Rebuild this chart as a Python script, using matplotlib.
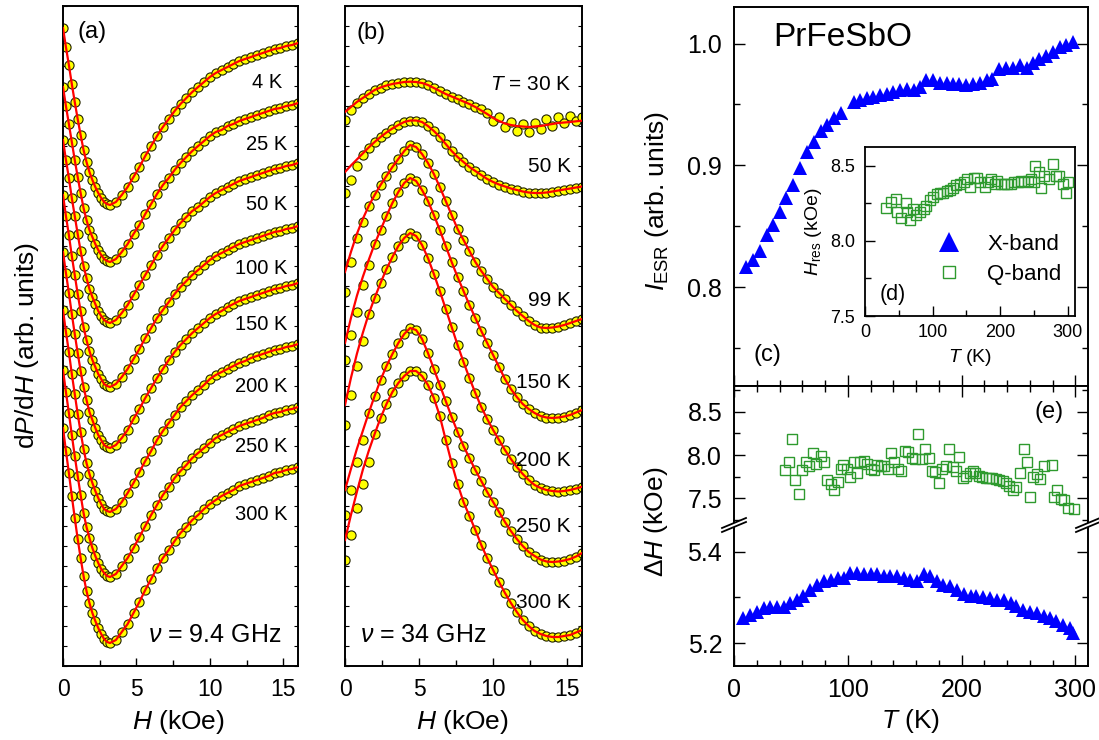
import numpy as np
import matplotlib
matplotlib.use('Agg')
import matplotlib.pyplot as plt
from matplotlib.ticker import MultipleLocator, FixedLocator, FormatStrFormatter
from matplotlib.lines import Line2D
from matplotlib.patches import Polygon

plt.rcParams['font.family'] = ['Liberation Sans', 'DejaVu Sans']
plt.rcParams['mathtext.fontset'] = 'custom'
plt.rcParams['mathtext.rm'] = 'Liberation Sans'
plt.rcParams['mathtext.it'] = 'Liberation Sans:italic'
plt.rcParams['mathtext.bf'] = 'Liberation Sans:bold'

# ---------------- data: panel (a), X-band spectra (arb. units, offset) -------
H_a = [0, 0.2, 0.4, 0.6, 0.8, 1.0, 1.2, 1.4, 1.6, 1.8, 2.0, 2.2, 2.4, 2.6, 2.8, 3.0, 3.2,
       3.6, 4.0, 4.4, 4.8, 5.2, 5.6, 6.0, 6.4, 6.8, 7.2, 7.6, 8.0, 8.4, 8.8, 9.2, 9.6, 10.0,
       10.4, 10.8, 11.2, 11.6, 12.0, 12.4, 12.8, 13.2, 13.6, 14.0, 14.4, 14.8, 15.2, 15.6, 16.0]
a_4K = [638, 619, 601, 582, 564, 547, 531, 516, 504, 494, 486, 479, 473, 468, 464, 462, 461,
        464, 471, 479, 489, 499, 510, 520, 530, 539, 547, 555, 562, 568, 574, 579, 584, 589,
        593, 596, 599, 602, 605, 607, 609, 611, 613, 615, 617, 618, 620, 621, 623]
a_25K = [579, 560, 542, 524, 506, 489, 473, 458, 446, 436, 429, 422, 416, 411, 407, 405, 404,
         407, 414, 422, 432, 441, 452, 462, 472, 481, 488, 496, 503, 509, 515, 520, 525, 530,
         534, 536, 540, 542, 545, 547, 549, 551, 553, 555, 557, 558, 560, 561, 563]
a_50K = [526, 506, 488, 468, 450, 432, 415, 400, 388, 377, 369, 362, 355, 350, 346, 344, 343,
         346, 353, 361, 371, 381, 391, 401, 411, 420, 428, 436, 443, 449, 455, 459, 464, 469,
         473, 476, 479, 482, 485, 487, 489, 491, 493, 495, 497, 498, 500, 501, 503]
a_100K = [471, 450, 431, 410, 391, 372, 355, 339, 326, 315, 306, 299, 292, 287, 282, 280, 279,
          282, 289, 297, 307, 317, 328, 338, 348, 356, 364, 372, 379, 385, 391, 396, 401, 406,
          410, 413, 416, 419, 422, 424, 426, 428, 430, 432, 434, 435, 437, 438, 440]
a_150K = [414, 393, 373, 352, 332, 313, 295, 279, 266, 254, 246, 238, 231, 226, 221, 219, 218,
          221, 228, 236, 247, 257, 268, 278, 288, 297, 306, 314, 321, 327, 333, 338, 343, 348,
          352, 355, 359, 362, 365, 367, 369, 371, 373, 375, 377, 378, 380, 381, 383]
a_200K = [356, 334, 314, 292, 272, 252, 234, 217, 203, 192, 183, 175, 168, 162, 157, 155, 154,
          157, 164, 173, 183, 194, 205, 215, 226, 235, 243, 251, 259, 265, 271, 276, 281, 287,
          291, 294, 297, 300, 303, 305, 308, 310, 312, 314, 316, 317, 319, 320, 322]
a_250K = [296, 274, 253, 231, 210, 190, 171, 153, 139, 128, 118, 110, 103, 97, 93, 90, 89,
          92, 100, 108, 118, 129, 140, 151, 161, 171, 179, 188, 195, 201, 208, 213, 218, 223,
          228, 231, 234, 237, 240, 242, 244, 246, 248, 251, 253, 254, 256, 257, 259]
a_300K = [238, 215, 193, 170, 148, 127, 108, 90, 75, 63, 53, 45, 38, 32, 27, 24, 23,
          26, 34, 42, 53, 64, 76, 87, 98, 108, 116, 125, 133, 139, 146, 151, 157, 162,
          166, 170, 173, 176, 180, 182, 184, 186, 188, 190, 193, 194, 196, 197, 199]
a_labels = ['4 K', '25 K', '50 K', '100 K', '150 K', '200 K', '250 K', '300 K']
a_label_y = [584, 521, 461, 398, 341, 279, 219, 151]

# ---------------- data: panel (b), Q-band spectra ----------------------------
H_b = [0, 0.4, 0.8, 1.2, 1.6, 2.0, 2.4, 2.8, 3.2, 3.6, 4.0, 4.4, 4.8, 5.2, 5.6, 6.0, 6.4,
       6.8, 7.2, 7.6, 8.0, 8.4, 8.8, 9.2, 9.6, 10.0, 10.4, 10.8, 11.2, 11.6, 12.0, 12.4,
       12.8, 13.2, 13.6, 14.0, 14.4, 14.8, 15.2, 15.6, 16.0]
b_fit_30K = [554, 559, 564, 568, 572, 576, 578.5, 580.5, 582, 583, 584, 584.3, 584, 583, 581,
             578, 575, 572, 569.5, 567, 564.5, 562, 559, 555.5, 552, 548, 545, 542.5, 541,
             540, 539.5, 539, 539.5, 540, 541, 542, 543, 543.5, 544, 544.7, 545.3]
b_dat_30K = [546, 556, 563, 568, 572, 576, 578, 581, 582, 583, 584, 584, 584, 583, 581,
             578, 575, 572, 569, 567, 564, 562, 559, 557, 553, 545, 549, 539, 544, 535,
             542, 534, 543, 537, 547, 540, 549, 543, 550, 545, 549]
b_fit_50K = [494, 500.5, 506.5, 512.5, 518.5, 524, 529, 533.5, 537.5, 541, 544, 545.5, 545.5,
             544, 540, 535, 529, 522, 515, 509, 504, 499, 495, 491, 487, 484, 481.5, 479.5,
             477.5, 476, 474.5, 473.5, 473, 473, 473.5, 474.5, 475.5, 476.5, 477.5, 478.5, 479.5]
b_dat_50K = [473, 486, 500, 511, 518, 524, 529, 533.5, 537.5, 541, 544, 545.5, 545.5,
             544, 540, 535, 529, 522, 515, 509, 504, 499, 495, 491, 487, 484, 481.5, 479.5,
             477.5, 476, 474.5, 473.5, 473, 473, 473.5, 474.5, 475.5, 476.5, 477.5, 478.5, 479.5]
b_fit_99K = [394, 414, 432, 447, 460, 471, 481, 490, 499, 507, 515, 521, 519, 512, 503, 492,
             479, 465, 451, 437, 426, 415, 404, 395, 387, 379, 373, 367, 361, 355, 350, 345,
             341, 338.5, 338, 338.5, 339.5, 341, 343, 345, 347]
b_dat_99K = [374, 404, 428, 444, 460, 471, 481, 490, 499, 507, 515, 521, 519, 512, 503, 492,
             479, 465, 451, 437, 426, 415, 404, 395, 387, 379, 373, 367, 361, 355, 350, 345,
             341, 338.5, 338, 338.5, 339.5, 341, 343, 345, 347]
b_fit_150K = [323, 348, 370, 389, 406, 422, 436, 450, 463, 474, 483, 488, 485, 476, 465, 451,
              436, 420, 404, 389, 375, 361, 348, 335, 323, 311, 299, 287, 277, 269, 262, 257,
              253, 250, 248.5, 248, 248.5, 249.5, 251, 253.5, 256]
b_dat_150K = [306, 331, 354, 381, 401, 422, 436, 450, 463, 474, 483, 488, 485, 476, 465, 451,
              436, 420, 404, 389, 375, 361, 348, 335, 323, 311, 299, 287, 277, 269, 262, 257,
              253, 250, 248.5, 248, 248.5, 249.5, 251, 253.5, 256]
b_fit_200K = [261, 288, 312, 333, 352, 368, 383, 397, 409, 420, 428, 433, 430, 421, 408, 392,
              375, 357, 339, 321, 304, 288, 273, 259, 247, 236, 226, 216, 207, 199, 192, 186,
              181, 178, 176, 175, 174.5, 175, 176, 177.5, 179.3]
b_dat_200K = [241, 271, 300, 325, 352, 368, 383, 397, 409, 420, 428, 433, 430, 421, 408, 392,
              375, 357, 339, 321, 304, 288, 273, 259, 247, 236, 226, 216, 207, 199, 192, 186,
              181, 178, 176, 175, 174.5, 175, 176, 177.5, 179.3]
b_fit_250K = [176, 197, 217, 235, 253, 270, 286, 300, 312, 323, 332, 338, 336, 327, 313, 297,
              281, 265, 249, 234, 220, 208, 196, 185, 174, 164, 154, 144, 135, 127, 120, 114,
              110, 106.5, 104.5, 104, 104.5, 105.5, 107, 109.5, 113]
b_dat_250K = [151, 176, 204, 226, 253, 270, 286, 300, 312, 323, 332, 338, 336, 327, 313, 297,
              281, 265, 249, 234, 220, 208, 196, 185, 174, 164, 154, 144, 135, 127, 120, 114,
              110, 106.5, 104.5, 104, 104.5, 105.5, 107, 109.5, 113]
b_fit_300K = [126, 151, 174, 196, 215, 232, 248, 262, 274, 283, 290, 295, 295, 290, 281, 268,
              250, 226, 203, 182, 164, 150, 136, 121, 108, 96, 84, 73, 63, 54, 46, 40,
              35, 32, 30, 29, 29, 30, 31, 33.5, 36]
b_dat_300K = [106, 131, 158, 182, 204, 232, 248, 262, 274, 283, 290, 295, 295, 290, 281, 268,
              250, 226, 203, 182, 164, 150, 136, 121, 108, 96, 84, 73, 63, 54, 46, 40,
              35, 32, 30, 29, 29, 30, 31, 33.5, 36]
b_labels = ['$T$ = 30 K', '50 K', '99 K', '150 K', '200 K', '250 K', '300 K']
b_label_y = [581, 499, 366, 284, 206, 139, 63]

# ---------------- data: panel (c) I_ESR, X-band --------------------------------
T_c = [10.5, 17, 23, 29, 34.5, 40, 46, 52, 58, 64, 70, 76, 82, 88, 94, 105, 111, 117, 122,
       128, 134, 140, 146, 152, 158, 163, 169, 175, 181, 187, 192, 198, 204, 210, 216, 222,
       227, 233, 239, 245, 251, 257, 263, 268, 274, 280, 286, 292, 298]
I_esr = [0.8165, 0.822, 0.830, 0.843, 0.851, 0.862, 0.873, 0.884, 0.898, 0.911, 0.919, 0.928,
         0.933, 0.939, 0.943, 0.952, 0.954, 0.955, 0.956, 0.958, 0.959, 0.960, 0.962, 0.963,
         0.962, 0.964, 0.970, 0.970, 0.968, 0.968, 0.967, 0.967, 0.966, 0.967, 0.968, 0.970,
         0.971, 0.979, 0.980, 0.980, 0.982, 0.980, 0.984, 0.987, 0.990, 0.993, 0.997, 0.999, 1.001]

# ---------------- data: panel (d) inset, H_res Q-band --------------------------
T_d = [31, 38, 46, 47, 54, 61, 62, 66, 71, 76, 82, 87, 91, 96, 101, 106, 111, 116, 121, 126,
       130, 135, 140, 146, 151, 156, 161, 166, 171, 177, 182, 187, 192, 196, 201, 206, 211,
       216, 221, 226, 231, 236, 241, 246, 251, 252, 257, 261, 265, 272, 278, 283, 288, 293,
       298, 301]
H_res = [8.218, 8.255, 8.28, 8.19, 8.153, 8.25, 8.19, 8.14, 8.21, 8.17, 8.19, 8.21, 8.23, 8.27,
         8.29, 8.31, 8.32, 8.32, 8.33, 8.34, 8.35, 8.37, 8.38, 8.39, 8.41, 8.36, 8.42, 8.42,
         8.39, 8.36, 8.39, 8.41, 8.38, 8.40, 8.38, 8.38, 8.38, 8.38, 8.39, 8.39, 8.40, 8.39,
         8.40, 8.41, 8.39, 8.50, 8.46, 8.35, 8.43, 8.41, 8.51, 8.43, 8.43, 8.38, 8.32, 8.39]

# ---------------- data: panel (e) linewidth ----------------------------------
T_ex = [8, 14, 20, 26, 32, 38, 44, 49, 55, 61, 67, 73, 79, 85, 91, 97, 102, 108, 114, 120,
        126, 132, 137, 143, 149, 155, 161, 167, 172, 178, 184, 190, 196, 202, 208, 213, 219,
        225, 231, 237, 243, 248, 254, 260, 266, 272, 278, 283, 289, 295, 298]
dH_x = [5.255, 5.262, 5.269, 5.277, 5.279, 5.279, 5.279, 5.288, 5.294, 5.302, 5.316, 5.327,
        5.335, 5.338, 5.342, 5.342, 5.354, 5.354, 5.351, 5.351, 5.350, 5.346, 5.346, 5.346,
        5.342, 5.337, 5.335, 5.352, 5.346, 5.335, 5.327, 5.324, 5.316, 5.307, 5.302, 5.302,
        5.300, 5.298, 5.294, 5.294, 5.288, 5.280, 5.273, 5.269, 5.266, 5.260, 5.255, 5.249,
        5.240, 5.233, 5.222]
T_eq = [45, 48, 51, 54, 57, 60, 63, 66, 69, 72, 76, 79, 82, 85, 88, 91, 94, 96, 99, 102, 105,
        108, 111, 114, 117, 120, 123, 126, 129, 132, 135, 138, 141, 144, 147, 150, 153, 156,
        159, 162, 165, 168, 171, 174, 177, 180, 183, 186, 189, 192, 195, 198, 201, 204, 207,
        210, 212, 215, 218, 221, 224, 227, 230, 233, 236, 239, 242, 245, 248, 251, 255, 257,
        260, 263, 266, 269, 272, 279, 281, 284, 287, 290, 293, 299]
dH_q = [7.83, 7.92, 8.19, 7.71, 7.55, 7.83, 7.92, 7.87, 8.02, 7.90, 7.99, 7.92, 7.71, 7.67,
        7.60, 7.69, 7.84, 7.88, 7.84, 7.75, 7.92, 7.79, 7.92, 7.93, 7.90, 7.84, 7.83, 7.88,
        7.87, 7.87, 7.84, 8.02, 7.92, 7.84, 7.82, 8.05, 8.04, 7.97, 7.95, 8.24, 7.95, 8.07,
        7.97, 7.82, 7.80, 7.68, 7.84, 7.87, 8.07, 7.86, 7.81, 7.98, 7.74, 7.76, 7.79, 7.82,
        7.79, 7.76, 7.75, 7.74, 7.73, 7.73, 7.72, 7.71, 7.70, 7.68, 7.64, 7.60, 7.63, 7.79,
        8.07, 7.92, 7.51, 7.75, 7.78, 7.72, 7.87, 7.88, 7.52, 7.60, 7.49, 7.48, 7.39, 7.38]

# ---------------- styling -----------------------------------------------------
BLUE = '#0000FF'
GREEN = '#2E9A2E'
YEL = '#FFFF00'
RED = '#FF0000'
W, Hpx = 1099, 740
fig = plt.figure(figsize=(W / 100, Hpx / 100), dpi=100)


def box(x0, y0, x1, y1):
    return [x0 / W, 1 - y1 / Hpx, (x1 - x0) / W, (y1 - y0) / Hpx]


def fpt(x, y):
    return (x / W, 1 - y / Hpx)


def spines(ax, lw=1.4):
    for s in ax.spines.values():
        s.set_linewidth(lw)


ax_a = fig.add_axes(box(63, 6, 298, 666))
ax_b = fig.add_axes(box(345, 6, 582, 666))
ax_c = fig.add_axes(box(734, 7, 1088, 386))
ax_et = fig.add_axes(box(734, 386, 1088, 525))
ax_eb = fig.add_axes(box(734, 525, 1088, 666))
ax_d = fig.add_axes(box(865, 147, 1075, 316))

LABFS = 19

# ---- (a)
for v in [a_4K, a_25K, a_50K, a_100K, a_150K, a_200K, a_250K, a_300K]:
    ax_a.plot(H_a, v, 'o', ms=6.6, mfc=YEL, mec='#222200', mew=0.8, zorder=2)
    ax_a.plot(H_a, v, '-', color=RED, lw=1.6, zorder=3)
for lab, yv, xr in zip(a_labels, a_label_y, [14.9] + [15.3] * 7):
    ax_a.text(xr, yv, lab, ha='right', va='center', fontsize=14.5)
ax_a.text(14.9, 31, r'$\nu$ = 9.4 GHz', ha='right', va='center', fontsize=18)
ax_a.text(1.0, 634, '(a)', ha='left', va='center', fontsize=17)

# ---- (b)
for f, d in [(b_fit_30K, b_dat_30K), (b_fit_50K, b_dat_50K), (b_fit_99K, b_dat_99K),
             (b_fit_150K, b_dat_150K), (b_fit_200K, b_dat_200K), (b_fit_250K, b_dat_250K),
             (b_fit_300K, b_dat_300K)]:
    ax_b.plot(H_b, d, 'o', ms=6.6, mfc=YEL, mec='#222200', mew=0.8, zorder=2)
    ax_b.plot(H_b, f, '-', color=RED, lw=1.6, zorder=3)
for lab, yv in zip(b_labels, b_label_y):
    ax_b.text(15.25, yv, lab, ha='right', va='center', fontsize=15)
ax_b.text(1.0, 31, r'$\nu$ = 34 GHz', ha='left', va='center', fontsize=18)
ax_b.text(0.8, 633, '(b)', ha='left', va='center', fontsize=17)

for ax in (ax_a, ax_b):
    ax.set_xlim(0, 16)
    ax.set_ylim(0, 660)
    ax.xaxis.set_major_locator(MultipleLocator(5))
    ax.xaxis.set_minor_locator(MultipleLocator(2.5))
    ax.yaxis.set_major_locator(MultipleLocator(20))
    ax.tick_params(axis='x', which='both', direction='in', top=False, bottom=True,
                   labelsize=16.5, pad=8.5, width=1.0)
    ax.tick_params(axis='x', which='major', length=6)
    ax.tick_params(axis='x', which='minor', length=4)
    ax.tick_params(axis='y', which='both', direction='in', left=True, right=True,
                   labelleft=False, length=3, width=0.8)
    spines(ax)

fig.text(*fpt(27, 345), r'd$P$/d$H$ (arb. units)', rotation=90, ha='center', va='center',
         fontsize=LABFS)
fig.text(*fpt(178, 722), r'$H$ (kOe)', ha='center', va='center', fontsize=LABFS)
fig.text(*fpt(462, 722), r'$H$ (kOe)', ha='center', va='center', fontsize=LABFS)

# ---- (c)
ax_c.plot(T_c, I_esr, '^', ms=10.5, color=BLUE, mec=BLUE, mew=0, zorder=3)
ax_c.set_xlim(0, 311)
ax_c.set_ylim(0.719, 1.030)
ax_c.yaxis.set_major_locator(FixedLocator([0.8, 0.9, 1.0]))
ax_c.yaxis.set_minor_locator(FixedLocator([0.75, 0.85, 0.95]))
ax_c.yaxis.set_major_formatter(FormatStrFormatter('%.1f'))
ax_c.xaxis.set_major_locator(MultipleLocator(100))
ax_c.xaxis.set_minor_locator(MultipleLocator(20))
ax_c.tick_params(which='both', direction='in', left=True, right=True, bottom=True, top=False,
                 labelbottom=False, labelsize=18, pad=8.5, width=1.0)
ax_c.tick_params(which='major', length=8)
ax_c.tick_params(which='minor', length=4.5)
spines(ax_c)
ax_c.text(0.11, 0.92, 'PrFeSbO', transform=ax_c.transAxes, fontsize=24, ha='left', va='center')
ax_c.text(0.055, 0.083, '(c)', transform=ax_c.transAxes, fontsize=17, ha='left', va='center')
fig.text(*fpt(657, 201), r'$I_{\rm ESR}$ (arb. units)', rotation=90, ha='center', va='center',
         fontsize=LABFS)

# ---- (e)
ax_et.plot(T_eq, dH_q, 's', ms=6.8, mfc='none', mec=GREEN, mew=1.0, zorder=3)
ax_eb.plot(T_ex, dH_x, '^', ms=10.5, color=BLUE, mec=BLUE, mew=0, zorder=3)
ax_et.set_ylim(7.192, 8.797)
ax_eb.set_ylim(5.150, 5.458)
for ax in (ax_et, ax_eb):
    ax.set_xlim(0, 311)
    ax.xaxis.set_major_locator(MultipleLocator(100))
    ax.xaxis.set_minor_locator(MultipleLocator(20))
    ax.yaxis.set_major_formatter(FormatStrFormatter('%.1f'))
    spines(ax)
ax_et.yaxis.set_major_locator(FixedLocator([7.5, 8.0, 8.5]))
ax_et.yaxis.set_minor_locator(FixedLocator([7.25, 7.75, 8.25, 8.75]))
ax_eb.yaxis.set_major_locator(FixedLocator([5.2, 5.4]))
ax_eb.yaxis.set_minor_locator(FixedLocator([5.3]))
ax_et.spines['bottom'].set_visible(False)
ax_eb.spines['top'].set_visible(False)
ax_et.tick_params(which='both', direction='in', left=True, right=True, top=True, bottom=False,
                  labelbottom=False, labelsize=18, pad=8.5, width=1.0)
ax_eb.tick_params(which='both', direction='in', left=True, right=True, top=False, bottom=True,
                  labelsize=18, pad=8.5, width=1.0)
for ax in (ax_et, ax_eb):
    ax.tick_params(which='major', length=8)
    ax.tick_params(which='minor', length=4.5)
ax_et.text(0.93, 0.81, '(e)', transform=ax_et.transAxes, fontsize=17, ha='right', va='center')
fig.text(*fpt(656, 522), r'$\Delta H$ (kOe)', rotation=90, ha='center', va='center',
         fontsize=LABFS)
fig.text(*fpt(911, 721), r'$T$ (K)', ha='center', va='center', fontsize=LABFS)

# axis-break marks
for xc in (734, 1088):
    yc = 525
    poly = Polygon([fpt(xc - 12, yc + 3), fpt(xc + 12, yc - 7), fpt(xc + 12, yc - 3),
                    fpt(xc - 12, yc + 7)], closed=True, transform=fig.transFigure,
                   facecolor='white', edgecolor='none', zorder=5)
    fig.add_artist(poly)
    for dy in (3, 7):
        (x0, y0), (x1, y1) = fpt(xc - 12, yc + dy), fpt(xc + 12, yc + dy - 10)
        fig.add_artist(Line2D([x0, x1], [y0, y1], transform=fig.transFigure, color='black',
                              lw=1.3, zorder=6))

# ---- (d) inset
ax_d.set_facecolor('white')
ax_d.set_zorder(5)
ax_d.plot(T_d, H_res, 's', ms=6.8, mfc='none', mec=GREEN, mew=1.0, zorder=3)
ax_d.set_xlim(0, 311)
ax_d.set_ylim(7.5, 8.624)
ax_d.xaxis.set_major_locator(MultipleLocator(100))
ax_d.xaxis.set_minor_locator(MultipleLocator(50))
ax_d.yaxis.set_major_locator(FixedLocator([7.5, 8.0, 8.5]))
ax_d.yaxis.set_minor_locator(FixedLocator([7.75, 8.25]))
ax_d.yaxis.set_major_formatter(FormatStrFormatter('%.1f'))
ax_d.tick_params(which='both', direction='in', left=True, bottom=True, right=False, top=False,
                 labelsize=13, width=1.0)
ax_d.tick_params(axis='y', pad=7)
ax_d.tick_params(axis='x', pad=6)
ax_d.tick_params(which='major', length=7)
ax_d.tick_params(which='minor', length=4)
spines(ax_d, 1.3)
ax_d.text(0.07, 0.13, '(d)', transform=ax_d.transAxes, fontsize=15.5, ha='left', va='center')
fig.text(*fpt(970, 358), r'$T$ (K)', ha='center', va='center', fontsize=14)
fig.text(*fpt(813, 232), r'$H_{\rm res}$ (kOe)', rotation=90, ha='center', va='center',
         fontsize=14)
h1 = Line2D([], [], ls='none', marker='^', ms=14.5, color=BLUE, mec=BLUE, mew=0)
h2 = Line2D([], [], ls='none', marker='s', ms=8.6, mfc='none', mec=GREEN, mew=1.0)
ax_d.legend([h1, h2], ['X-band', 'Q-band'], loc='center left', bbox_to_anchor=(0.348, 0.334),
            frameon=False, fontsize=16, handlelength=1.0, handletextpad=1.21,
            labelspacing=0.4, borderpad=0, borderaxespad=0, numpoints=1)

fig.savefig('out.png', dpi=100)
